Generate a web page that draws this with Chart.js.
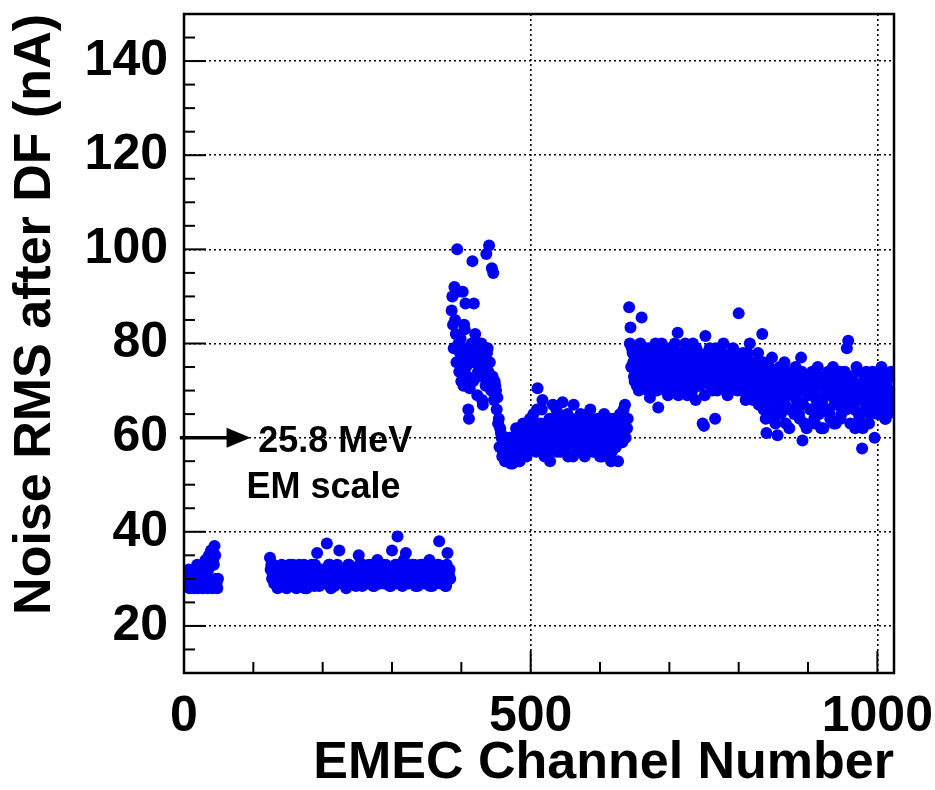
<!DOCTYPE html>
<html>
<head>
<meta charset="utf-8">
<script src="https://cdn.jsdelivr.net/npm/chart.js@4.4.1/dist/chart.umd.min.js"></script>
<style>
  html, body { margin: 0; padding: 0; background: #fff; }
  #wrap { width: 935px; height: 790px; }
</style>
</head>
<body>
<div id="wrap"><canvas id="noiseChart" width="935" height="790"></canvas></div>
<script>
// axis ranges
const xMin = 0, xMax = 1024;
const yMin = 10, yMax = 150;
const xLabelled = [0, 500, 1000];
const yLabelled = [20, 40, 60, 80, 100, 120, 140];

// noise RMS (nA) per channel, split in blocks; even and odd channels listed apart
// block A: channels 0..49
const blockA_even = [30, 29, 31, 30, 28, 30, 29, 31, 32, 30, 28, 31, 29, 30, 32, 33, 30, 28, 35, 33,
  36, 34, 37, 30, 28];
const blockA_odd = [31, 30, 29, 32, 30, 29, 31, 28, 30, 33, 31, 29, 30, 28, 31, 34, 29, 32, 30, 36,
  28, 33, 35, 29, 30];

// block B: channels 124..384
const blockB_even = [
  34.5, 33, 31, 29, 30, 32, 28.5, 30, 31, 29,
  32, 30, 28, 31, 33, 29, 30, 32, 31, 28,
  30, 33, 29, 31, 30, 28, 32, 30, 29, 31,
  33, 30, 28.5, 31, 35.5, 30, 29, 32, 30, 31,
  29, 37.5, 30, 33, 28, 31, 30, 32, 29, 31,
  36, 30, 29, 32, 31, 28, 30, 33, 29, 31,
  30, 32, 28.5, 30, 35, 31, 29, 33, 31, 30,
  32, 29, 31, 30, 33, 28.5, 31, 30, 32, 29,
  31, 33, 30, 29, 32, 30, 31, 28.5, 36, 32,
  30, 33, 39, 31, 29, 32, 30, 33, 35.5, 31,
  29, 32, 30, 31, 33, 28.5, 30, 32, 31, 29,
  33, 30, 32, 29, 31, 34, 30, 28.5, 32, 31,
  30, 33, 38, 29, 31, 32, 30, 28.5, 35.5, 31,
  30];
const blockB_odd = [
  32, 30, 33, 31, 29, 28, 31, 30, 33, 30,
  29, 31, 32, 30, 28.5, 31, 33, 29, 30, 32,
  31, 29, 30, 32, 33, 30, 28, 31, 32, 30,
  29, 31, 33, 30, 32, 28.5, 31, 30, 29, 32,
  31, 30, 33, 29, 31, 32, 28.5, 30, 33, 30,
  31, 29, 32, 30, 28.5, 31, 33, 30, 32, 29,
  31, 30, 29, 32, 33, 30, 28.5, 31, 30, 32,
  29, 33, 30, 31, 28.5, 32, 30, 34, 29, 31,
  30, 32, 29, 33, 31, 30, 28.5, 32, 30, 31,
  33, 29, 31, 30, 32, 28.5, 34, 31, 29, 32,
  30, 31, 33, 29, 32, 30, 28.5, 31, 33, 30,
  32, 29, 31, 30, 33, 28.5, 32, 31, 30, 29,
  31, 33, 30, 32, 29, 31, 28.5, 33, 30, 32];

// block C: channels 386..640
const blockC_even = [
  87, 84, 92, 82, 100, 80, 78, 72, 91, 84,
  88.5, 79, 66, 70.5, 76, 97.5, 88.5, 82, 78, 74,
  80, 75, 68, 77, 73, 99, 79, 100.8, 71, 96,
  95, 72, 70, 68.5, 64, 62, 60, 57, 59, 56,
  58, 55, 60, 57, 54.5, 59, 56, 61, 58, 55,
  60, 57, 59, 62, 56, 58, 60,
  63, 58, 65, 61, 57, 70.5, 62, 59, 66, 60,
  56, 63, 61, 58, 55, 64, 67, 60, 62, 57,
  65, 59, 61, 67.5, 58, 63, 60, 56, 62, 64,
  59, 67, 61, 57, 63, 60, 65, 58, 62, 56,
  61, 64, 59, 66, 60, 57, 63, 61, 58, 64,
  56, 62, 60, 65, 59, 57, 63, 61, 55, 60,
  64, 58, 62, 55, 61, 64, 59, 66, 67, 62,
  64];
const blockC_odd = [
  90, 79, 85, 76, 91, 74, 81, 77, 71, 83,
  75, 73, 64, 78, 80, 72, 76, 79, 69, 77,
  73, 80, 67, 75, 71, 78, 74, 76, 70, 73,
  68, 71,
  66, 63, 58, 61, 56, 59, 55, 58, 57, 60,
  54.5, 57, 59, 56, 62, 58, 55, 60, 57, 63,
  59, 61, 58, 62, 64,
  61, 64, 59, 62, 66, 60, 58, 63, 68, 61,
  59, 62, 57, 64, 60, 63, 58, 61, 66, 59,
  62, 57, 64, 60, 62, 58, 65, 61, 59, 63,
  56, 62, 60, 64, 58, 61, 63, 57, 60, 62,
  59, 65, 61, 58, 63, 60, 57, 62, 64, 59,
  61, 56, 63, 60, 58, 62, 59, 64, 57, 61,
  63, 58, 60, 62, 65, 59, 61, 63, 60, 62];

// block D: channels 642..1022
const blockD_even = [
  87.7, 83.4, 79, 76, 72, 78, 74, 70, 80, 85.5,
  73, 77, 71, 75, 79, 68.5, 74, 76, 72, 80,
  70, 66.4, 75, 78, 73, 71, 77, 74, 69, 79,
  76, 72, 74, 80, 70, 82.3, 75, 73, 78, 71,
  77, 74, 69, 79, 76, 72, 80, 73, 68, 75,
  78, 71, 74, 63, 62.5, 81.6, 76, 72, 79, 74,
  70, 77, 64, 75, 73, 78, 71, 76, 80, 72,
  74, 69, 77, 75, 71, 79, 73, 76, 70, 86.4,
  75, 72, 78, 74, 68, 77, 73, 80, 71, 75,
  69, 76, 72, 78, 70, 74, 82, 66, 73, 61,
  71, 75, 68, 77, 64, 72, 70.5, 60.5, 74, 67,
  73, 69, 76, 63, 71, 74, 66, 70, 72, 65,
  75, 68, 71, 64, 77, 59.4, 70, 73, 62, 69,
  72, 66, 74, 70, 63, 68, 75, 65, 71, 67,
  62, 73, 69, 66, 72, 64, 70, 75, 67, 63,
  71, 68, 74, 65, 70, 72, 66, 79, 80.6, 69,
  73, 67, 71, 62, 75, 68, 64, 70, 57.7, 72,
  66, 74, 69, 63, 71, 68, 72, 60, 70, 65,
  73, 69, 75, 67, 71, 64, 72, 68, 65.3, 74,
  70];
const blockD_odd = [
  80, 75, 78, 73, 77, 71, 76, 79, 74, 72,
  76, 79, 73, 70, 77, 75, 72, 78, 74, 71,
  77, 73, 76, 80, 72, 75, 70, 78, 74, 76,
  73, 79, 71, 75, 77, 69, 74, 78, 72, 76,
  80, 72, 75, 73, 78, 70, 76, 74, 79, 71,
  75, 77, 72, 76, 69, 74, 78, 73, 71, 77,
  74, 72, 79, 70, 76, 73, 75, 78, 71, 74,
  77, 73, 70, 76, 74, 72, 78, 71, 75, 73,
  70, 76, 73, 71, 75, 78, 69, 72, 74, 68,
  73, 71, 75, 67, 72, 69, 76, 70, 64, 72,
  68, 74, 66, 70, 73, 63, 71, 69, 75, 65,
  70, 72, 67, 74, 69, 62, 71, 73, 66, 70,
  68, 72, 65, 70, 74, 67, 63, 71, 69, 73,
  66, 70, 72, 64, 69, 73, 67, 71, 62, 68,
  72, 66, 70, 74, 65, 69, 71, 63, 68, 73,
  67, 70, 64, 72, 68, 74, 66, 71, 69, 63,
  70, 72, 66, 69, 74, 65, 71, 68, 62, 70,
  73, 67, 71, 65, 69, 74, 66, 70, 72, 68,
  71, 66, 73, 69, 64, 72, 70, 67, 73, 69];

// annotation: arrow at the 60 nA line pointing to the label
const arrowY = 60, arrowFrom = -6, arrowTo = 96;
const noteLines = ['25.8 MeV', 'EM scale'];
const noteX = [107, 90];
const noteY = [56.9, 47.1];

const FONT = "'Liberation Sans', Arial, Helvetica, sans-serif";

// values run over every second channel starting at 'first'
function toPoints(first, vals) {
  return vals.map((v, i) => ({ x: first + 2 * i, y: v }));
}

const points = [].concat(
  toPoints(0, blockA_even), toPoints(1, blockA_odd),
  toPoints(124, blockB_even), toPoints(125, blockB_odd),
  toPoints(386, blockC_even), toPoints(387, blockC_odd),
  toPoints(642, blockD_even), toPoints(643, blockD_odd)
);

// frame, inside tick marks and the arrow note
const framePlugin = {
  id: 'framePlugin',
  afterDraw(chart) {
    const { ctx, chartArea: a, scales: { x, y } } = chart;
    ctx.save();
    ctx.strokeStyle = '#000';
    ctx.lineWidth = 2;
    y.ticks.forEach(t => {
      if (t.value <= yMin || t.value >= yMax) return;
      const py = y.getPixelForValue(t.value);
      const len = t.value % 20 === 0 ? 22 : 11;
      ctx.beginPath();
      ctx.moveTo(a.left, py);
      ctx.lineTo(a.left + len, py);
      ctx.stroke();
    });
    x.ticks.forEach(t => {
      if (t.value <= xMin || t.value >= xMax) return;
      const px = x.getPixelForValue(t.value);
      const len = t.value % 500 === 0 ? 22 : 11;
      ctx.beginPath();
      ctx.moveTo(px, a.bottom);
      ctx.lineTo(px, a.bottom - len);
      ctx.stroke();
    });
    ctx.lineWidth = 2.5;
    ctx.strokeRect(a.left, a.top, a.right - a.left, a.bottom - a.top);

    // arrow
    const ay = y.getPixelForValue(arrowY);
    const ax0 = x.getPixelForValue(arrowFrom);
    const ax1 = x.getPixelForValue(arrowTo);
    ctx.lineWidth = 3.5;
    ctx.beginPath();
    ctx.moveTo(ax0, ay);
    ctx.lineTo(ax1 - 20, ay);
    ctx.stroke();
    ctx.fillStyle = '#000';
    ctx.beginPath();
    ctx.moveTo(ax1, ay);
    ctx.lineTo(ax1 - 24, ay - 10);
    ctx.lineTo(ax1 - 24, ay + 10);
    ctx.closePath();
    ctx.fill();

    ctx.font = 'bold 36px ' + FONT;
    ctx.textBaseline = 'alphabetic';
    ctx.textAlign = 'left';
    noteLines.forEach((s, i) => {
      ctx.fillText(s, x.getPixelForValue(noteX[i]), y.getPixelForValue(noteY[i]));
    });
    ctx.restore();
  }
};

const ctx = document.getElementById('noiseChart').getContext('2d');
const noiseChart = new Chart(ctx, {
  type: 'scatter',
  data: {
    datasets: [{
      label: 'Noise RMS',
      data: points,
      backgroundColor: 'rgb(0, 0, 245)',
      borderWidth: 0,
      pointRadius: 6
    }]
  },
  options: {
    responsive: false,
    animation: false,
    layout: { padding: { top: 14, right: 41, left: 0, bottom: 0 } },
    plugins: {
      legend: { display: false },
      tooltip: { enabled: false }
    },
    scales: {
      x: {
        type: 'linear',
        min: xMin,
        max: xMax,
        afterFit: s => { s.height = 117; s.paddingLeft = 0; s.paddingRight = 0; },
        border: { display: false, dash: [2, 3] },
        grid: {
          drawTicks: false,
          lineWidth: 1.6,
          color: c => (c.tick && c.tick.value % 500 === 0 && c.tick.value > xMin && c.tick.value < xMax) ? '#000' : 'rgba(0,0,0,0)'
        },
        ticks: {
          stepSize: 100,
          includeBounds: false,
          autoSkip: false,
          maxRotation: 0,
          padding: 14,
          color: '#000',
          font: { family: FONT, size: 50, weight: 'bold' },
          callback: v => xLabelled.includes(v) ? String(v) : ''
        },
        title: {
          display: true,
          text: 'EMEC Channel Number',
          align: 'end',
          color: '#000',
          font: { family: FONT, size: 52, weight: 'bold', lineHeight: 1 },
          padding: { top: 0, bottom: 0 }
        }
      },
      y: {
        type: 'linear',
        min: yMin,
        max: yMax,
        afterFit: s => { s.width = 184; s.paddingTop = 0; s.paddingBottom = 0; },
        border: { display: false, dash: [2, 3] },
        grid: {
          drawTicks: false,
          lineWidth: 1.6,
          color: c => (c.tick && yLabelled.includes(c.tick.value)) ? '#000' : 'rgba(0,0,0,0)'
        },
        ticks: {
          stepSize: 5,
          includeBounds: false,
          autoSkip: false,
          padding: 16,
          color: '#000',
          font: { family: FONT, size: 50, weight: 'bold' },
          callback: v => yLabelled.includes(v) ? String(v) : ''
        },
        title: {
          display: true,
          text: 'Noise RMS after DF (nA)',
          align: 'end',
          color: '#000',
          font: { family: FONT, size: 52, weight: 'bold', lineHeight: 1 },
          padding: { top: 10, bottom: 0 }
        }
      }
    }
  },
  plugins: [framePlugin]
});
</script>
</body>
</html>
